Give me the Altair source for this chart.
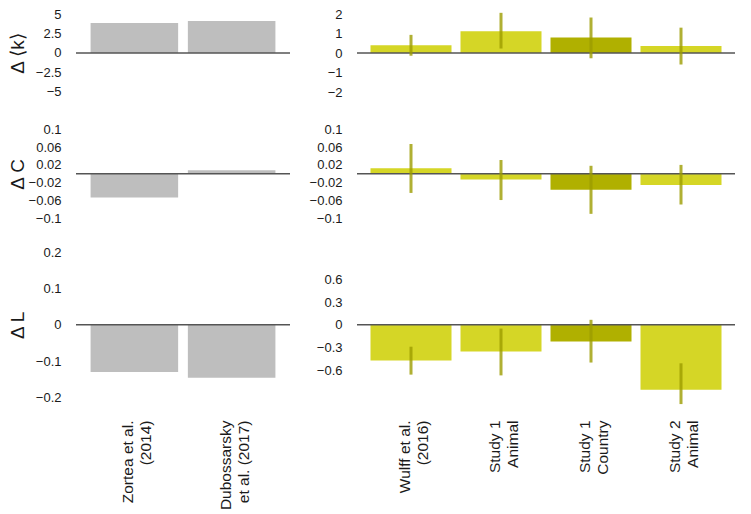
import altair as alt
import pandas as pd

# ---------------- data ----------------
left_studies = ["Zortea et al.|(2014)", "Dubossarsky|et al. (2017)"]
left_shade = ["gray", "gray"]
right_studies = ["Wulff et al.|(2016)", "Study 1|Animal", "Study 1|Country", "Study 2|Animal"]
right_shade = ["light", "light", "dark", "light"]

k_left = [3.83, 4.09]
C_left = [-0.053, 0.008]
L_left = [-0.130, -0.146]

k_right = [0.40, 1.12, 0.79, 0.36]
k_lo = [-0.14, 0.23, -0.27, -0.59]
k_hi = [0.93, 2.06, 1.82, 1.30]

C_right = [0.0125, -0.013, -0.036, -0.025]
C_lo = [-0.043, -0.059, -0.090, -0.069]
C_hi = [0.067, 0.031, 0.018, 0.020]

L_right = [-0.474, -0.355, -0.220, -0.860]
L_lo = [-0.66, -0.67, -0.50, -1.05]
L_hi = [-0.29, -0.05, 0.066, -0.51]

k_ticks_left = [-5, -2.5, 0, 2.5, 5]
k_ticks_right = [-2, -1, 0, 1, 2]
C_ticks = [-0.1, -0.06, -0.02, 0.02, 0.06, 0.1]
L_ticks_left = [-0.2, -0.1, 0, 0.1, 0.2]
L_ticks_right = [-0.6, -0.3, 0, 0.3, 0.6]

FONT = "Liberation Sans"
color_scale = alt.Scale(domain=["gray", "light", "dark"],
                        range=["#bebebe", "#d5d626", "#b0b000"])
YLABEL = "replace(toString(datum.value), '-', '\u2212')"


def panel(studies, shades, vals, lo, hi, domain, ticks, width, height,
          title, title_y, show_x):
    df = pd.DataFrame({"study": studies, "shade": shades, "val": vals})
    if lo is not None:
        df["lo"] = lo
        df["hi"] = hi
    if show_x:
        xaxis = alt.Axis(labelAngle=-90, labelAlign="right", labelBaseline="middle",
                         labelFontSize=15.5, labelLineHeight=18, labelPadding=14,
                         labelOffset=-6,
                         labelExpr="split(datum.label, '|')", labelColor="#1a1a1a",
                         labelFont=FONT, domain=False, ticks=False, grid=False, title=None)
    else:
        xaxis = None
    xenc = alt.X("study:N", sort=studies,
                 scale=alt.Scale(paddingInner=0.1, paddingOuter=0.15), axis=xaxis)
    yscale = alt.Scale(domain=domain, nice=False, zero=False)
    if title is not None:
        yaxis = alt.Axis(values=ticks, labelExpr=YLABEL, domain=False, ticks=False, grid=False,
                         labelPadding=15, labelFontSize=13, labelColor="#1a1a1a",
                         labelFont=FONT, title=title, titleX=-59, titleY=title_y,
                         titleAngle=270, titleBaseline="middle", titleAlign="center",
                         titleFontSize=19, titleFontWeight="normal", titleFont=FONT,
                         titleColor="#1a1a1a")
    else:
        yaxis = alt.Axis(values=ticks, labelExpr=YLABEL, domain=False, ticks=False, grid=False,
                         labelPadding=15, labelFontSize=13, labelColor="#1a1a1a",
                         labelFont=FONT, title=None)
    bars = alt.Chart(df).mark_bar().encode(
        x=xenc,
        y=alt.Y("val:Q", scale=yscale, axis=yaxis),
        color=alt.Color("shade:N", scale=color_scale, legend=None),
    )
    zdf = pd.DataFrame({"val": [0]})
    zero = alt.Chart(zdf).mark_rule(color="#555555", strokeWidth=1.4).encode(
        y=alt.Y("val:Q", scale=yscale, axis=yaxis)
    )
    layers = [bars, zero]
    if lo is not None:
        err = alt.Chart(df).mark_rule(color="#9c9c00", strokeWidth=3, opacity=0.8).encode(
            x=xenc,
            y=alt.Y("lo:Q", scale=yscale, axis=yaxis),
            y2="hi:Q",
        )
        layers.append(err)
    return alt.layer(*layers).properties(width=width, height=height)


LW, RW = 214, 378
H1, H2, H3 = 90, 104, 162

panels = [
    panel(left_studies, left_shade, k_left, None, None, [-6.54, 5], k_ticks_left,
          LW, H1, "Δ ⟨k⟩", 39, False),
    panel(right_studies, right_shade, k_right, k_lo, k_hi, [-2.615, 2], k_ticks_right,
          RW, H1, None, 0, False),
    panel(left_studies, left_shade, C_left, None, None, [-0.1173, 0.1164], C_ticks,
          LW, H2, "Δ C", 51.8, False),
    panel(right_studies, right_shade, C_right, C_lo, C_hi, [-0.1173, 0.1164], C_ticks,
          RW, H2, None, 0, False),
    panel(left_studies, left_shade, L_left, None, None, [-0.2234, 0.2223], L_ticks_left,
          LW, H3, "Δ L", 80.8, True),
    panel(right_studies, right_shade, L_right, L_lo, L_hi, [-1.0755, 1.070], L_ticks_right,
          RW, H3, None, 0, True),
]

chart = alt.concat(*panels, columns=2, spacing={"row": 18, "column": 67},
                   bounds="flush").properties(
    padding=0, background="white"
).configure(font=FONT).configure_view(strokeWidth=0)

chart.save("out.html", embed_options={"renderer": "svg", "actions": False})
